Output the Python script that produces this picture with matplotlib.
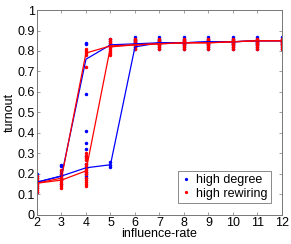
import matplotlib
matplotlib.use("Agg")
import matplotlib.pyplot as plt
import numpy as np

plt.rcParams["font.family"] = ["Liberation Sans", "DejaVu Sans"]
plt.rcParams["font.size"] = 9

rates = [2, 3, 4, 5, 6, 7, 8, 9, 10, 11, 12]

# mean curves (two branches per strategy)
deg_a = [0.16, 0.19, 0.76, 0.83, 0.835, 0.84, 0.84, 0.845, 0.845, 0.85, 0.85]
deg_b = [0.16, 0.19, 0.23, 0.245, 0.82, 0.84, 0.84, 0.845, 0.845, 0.85, 0.85]
rew_a = [0.155, 0.18, 0.79, 0.825, 0.83, 0.835, 0.84, 0.84, 0.845, 0.85, 0.85]
rew_b = [0.155, 0.17, 0.215, 0.82, 0.83, 0.835, 0.84, 0.84, 0.845, 0.85, 0.85]

# individual runs
plateau = [0.81, 0.82, 0.83, 0.835, 0.84, 0.845, 0.85, 0.855, 0.86, 0.87]
deg_pts = {
    2: [0.11, 0.13, 0.14, 0.15, 0.16, 0.17, 0.18, 0.19, 0.2],
    3: [0.15, 0.17, 0.18, 0.19, 0.2, 0.24, 0.245],
    4: [0.84, 0.835, 0.59, 0.41, 0.35, 0.32, 0.29, 0.25, 0.23, 0.21, 0.19, 0.18, 0.2],
    5: [0.235, 0.245, 0.26, 0.82, 0.83, 0.84, 0.85, 0.86],
}
rew_pts = {
    2: [0.11, 0.12, 0.13, 0.14, 0.15, 0.16, 0.17, 0.18, 0.19],
    3: [0.13, 0.14, 0.15, 0.16, 0.17, 0.18, 0.19, 0.2, 0.21, 0.22],
    4: [0.72, 0.78, 0.79, 0.8, 0.81, 0.14, 0.15, 0.16, 0.17, 0.18, 0.2, 0.21,
        0.22, 0.23, 0.24, 0.25, 0.27, 0.28, 0.29, 0.3],
    5: [0.78, 0.79, 0.8, 0.81, 0.82, 0.83, 0.84, 0.85, 0.86],
}
for r in rates[4:]:
    deg_pts[r] = plateau
    rew_pts[r] = plateau[:-1]


def flat(d):
    xs, ys = [], []
    for k, v in d.items():
        xs += [k] * len(v)
        ys += v
    return xs, ys


fig = plt.figure(figsize=(2.91, 2.44), dpi=100)
ax = fig.add_axes([0.127, 0.119, 0.842, 0.84])

bx, by = flat(deg_pts)
rx, ry = flat(rew_pts)
ax.plot(bx, by, ".", color="blue", markersize=3, label="high degree")
ax.plot(rx, ry, ".", color="red", markersize=3, label="high rewiring")
ax.plot(rates, deg_a, "-", color="blue", lw=0.9)
ax.plot(rates, deg_b, "-", color="blue", lw=0.9)
ax.plot(rates, rew_a, "-", color="red", lw=0.9)
ax.plot(rates, rew_b, "-", color="red", lw=0.9)

ax.set_xlim(2, 12)
ax.set_ylim(0, 1)
ax.set_xticks(rates)
ax.set_yticks(np.arange(0, 1.01, 0.1))
ax.set_yticklabels(["0", "0.1", "0.2", "0.3", "0.4", "0.5", "0.6", "0.7", "0.8", "0.9", "1"])
ax.tick_params(direction="in", top=True, right=True, length=2.5, width=0.5, pad=1.5,
               labelsize=9, colors="black")
for s in ax.spines.values():
    s.set_linewidth(0.7)
    s.set_color("#777777")
ax.tick_params(color="#777777")
ax.set_xlabel("influence-rate", fontsize=9, labelpad=-1)
ax.set_ylabel("turnout", fontsize=9, labelpad=1)

leg = ax.legend(loc="lower right", bbox_to_anchor=(0.955, 0.06), fontsize=9,
                frameon=True, fancybox=False, edgecolor="#555555", handlelength=0.8,
                handletextpad=0.4, borderpad=0.25, labelspacing=0.1, markerscale=0.9,
                borderaxespad=0)
leg.get_frame().set_linewidth(0.6)

fig.savefig("out.png", dpi=100)
